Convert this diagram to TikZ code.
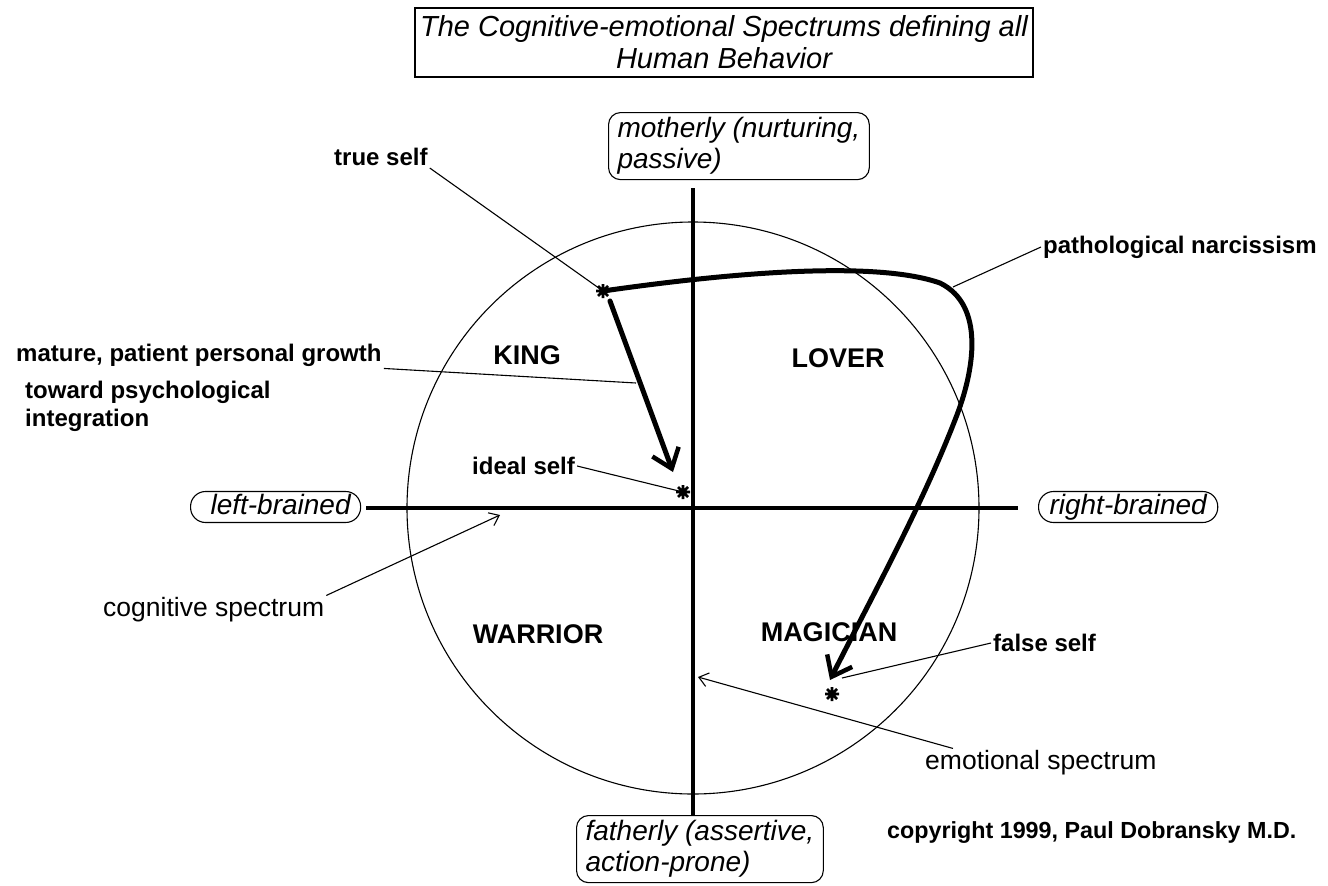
\documentclass[tikz,border=0pt]{standalone}
\usepackage{fontspec}
\setmainfont{Liberation Sans}
\usetikzlibrary{arrows.meta}
\begin{document}
\begin{tikzpicture}[x=1pt,y=-1pt,
 thinln/.style={line width=1.1pt},
 axisln/.style={line width=4.5pt},
 heavy/.style={line width=5pt, line cap=round, line join=round},
 lbl/.style={font=\fontsize{24}{28}\selectfont\bfseries, inner sep=2pt, anchor=west},
 quad/.style={font=\fontsize{27}{30}\selectfont\bfseries, inner sep=0pt},
 reg/.style={font=\fontsize{26.5}{30}\selectfont, inner sep=2pt, anchor=west},
 side/.style={draw, rounded corners=12pt, line width=1.1pt, font=\fontsize{28}{31}\selectfont\itshape, align=left, inner xsep=9pt, inner ysep=5pt},
 pill/.style={side, rounded corners=15pt, text height=21pt, text depth=6pt, inner ysep=2pt, anchor=west},
 thinarrow/.style={thinln, -{Straight Barb[length=9pt,width=14pt]}},
 heavyarrow/.style={heavy, -{Straight Barb[length=18pt,width=28pt,line width=4.5pt]}},
 starmk/.pic={\draw[line width=2.8pt] (-7,0)--(7,0) (0,-7)--(0,7) (-5,-5)--(5,5) (-5,5)--(5,-5);}
 ]
\useasboundingbox (0,0) rectangle (1328,886);
\fill[white] (0,0) rectangle (1328,886);

% title
\node[draw, line width=1.5pt, minimum width=618pt, minimum height=69pt, align=center,
      font=\fontsize{29}{32}\selectfont\itshape, inner sep=0pt] (title) at (724,42.5)
      {The Cognitive-emotional Spectrums defining all\\Human Behavior};

% axis labels
\node[side, anchor=north west] (mom) at (608,112) {motherly (nurturing,\\passive)};
\node[side, anchor=north west] (fat) at (576,815) {fatherly (assertive,\\action-prone)};
\node[pill, inner xsep=10pt] (lb) at (190,507) {\hspace{10pt}left-brained};
\node[pill, inner xsep=11pt] (rb) at (1038,507) {right-brained};

% centre, circle, axes
\coordinate (c) at (693,508);
\draw[thinln] (c) circle[radius=286pt];
\draw[axisln] ([yshift=-8pt]c |- mom.south) -- (c |- fat.north);
\draw[axisln] ([xshift=5pt]lb.east |- c) -- ([xshift=-20pt]rb.west |- c);

% quadrant labels
\node[quad] (king) at (527,355) {KING};
\node[quad] (lover) at (838,358) {LOVER};
\node[quad] (warrior) at (538,634) {WARRIOR};
\node[quad] (magic) at (829,632) {MAGICIAN};

% self markers
\coordinate (ts) at (603,291);
\coordinate (is) at (683,492);
\coordinate (fs) at (832,694);
\pic at (ts) {starmk};
\pic at (is) {starmk};
\pic at (fs) {starmk};

% thick arrows
\draw[heavyarrow] ([shift={(7,10)}]ts) -- ([shift={(-10,-20)}]is);
\draw[heavyarrow] (ts) .. controls (750,270) and (880,262) .. (940,283)
   .. controls (985,305) and (975,370) .. (955,420)
   .. controls (920,510) and (870,600) .. ([shift={(-2,-14)}]fs);

% labels
\node[lbl] (tself) at (332,157) {true self};
\node[lbl] (patho) at (1041,247) {pathological narcissism};
\node[lbl] (grow) at (14,355) {mature, patient personal growth};
\node[lbl] (toward) at (23,392) {toward psychological};
\node[lbl] (integ) at (23,420) {integration};
\node[lbl] (ideal) at (470,466) {ideal self};
\node[lbl] (false) at (991,643) {false self};
\node[lbl, font=\fontsize{23.3}{27}\selectfont\bfseries] (copy) at (885,833) {copyright 1999, Paul Dobransky M.D.};
\node[reg] (cog) at (101,610) {cognitive spectrum};
\node[reg] (emo) at (923,763) {emotional spectrum};

% connector end points
\coordinate (gl) at (636,383);
\coordinate (pn) at (953,287);
\coordinate (fl) at (842,678);
\coordinate (ca) at (500,515);
\coordinate (ea) at (698,677);

\draw[thinln] (tself.south east) -- (ts);
\draw[thinln] (grow.south east) -- (gl);
\draw[thinln] (ideal.east) -- (is);
\draw[thinln] (patho.west) -- (pn);
\draw[thinln] (false.west) -- (fl);
\draw[thinarrow] (cog.north east) -- (ca);
\draw[thinarrow] ([xshift=30pt]emo.north west) -- (ea);
\end{tikzpicture}
\end{document}
